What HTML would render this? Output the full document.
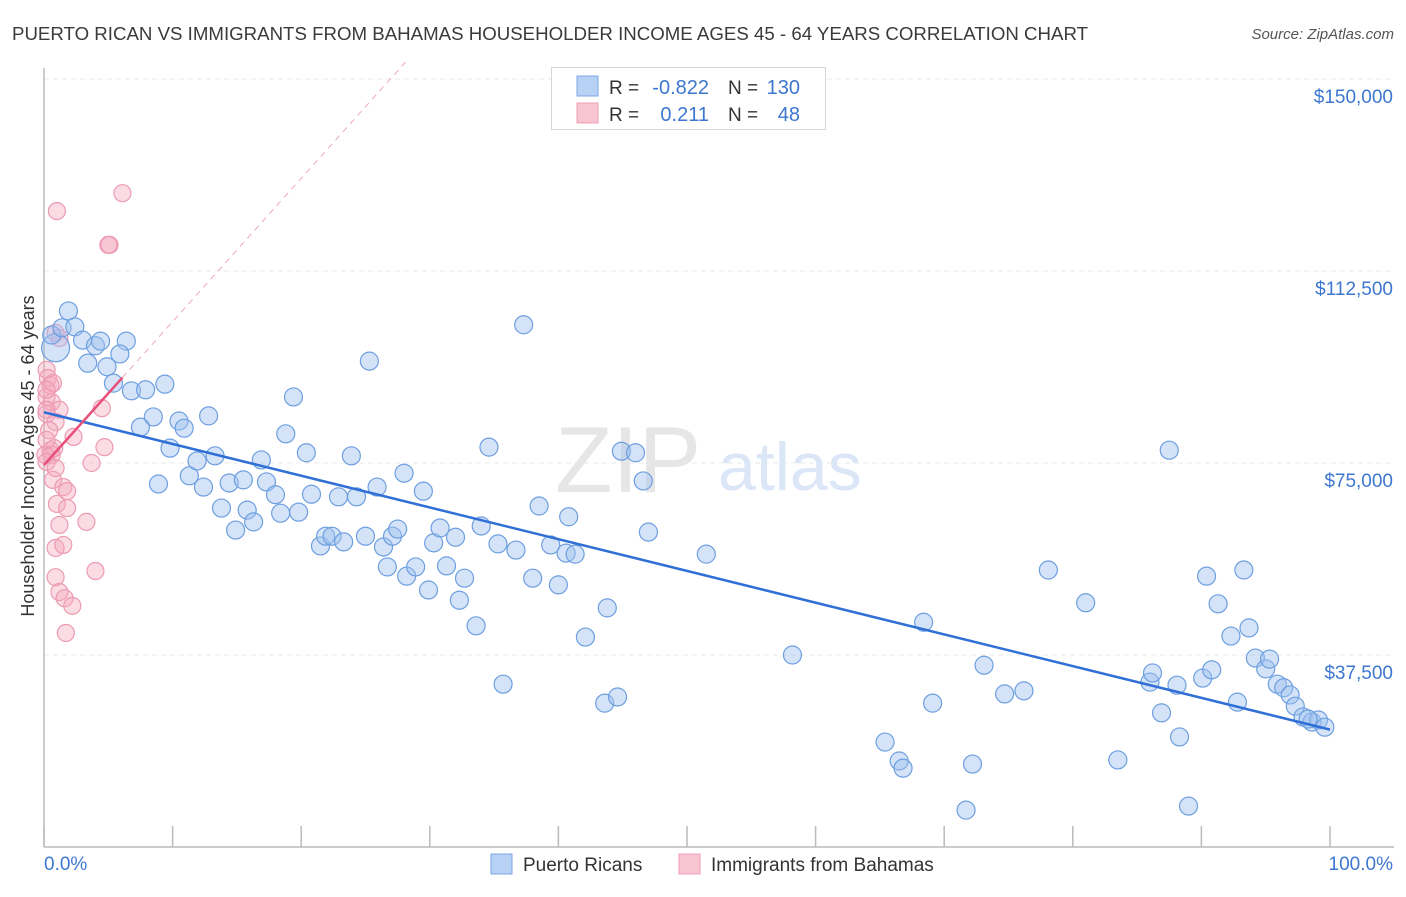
<!DOCTYPE html>
<html><head><meta charset="utf-8"><style>
body{margin:0;background:#fff;font-family:"Liberation Sans",sans-serif}
svg text{font-family:"Liberation Sans",sans-serif}
</style></head><body>
<svg id="c" width="1406" height="892"></svg>
<script>
const bluePct=[0.9,0.6,1.9,1.4,2.4,3.0,4.0,4.4,6.4,5.9,3.4,4.9,5.4,6.8,7.9,9.4,8.5,7.5,10.5,10.9,12.8,9.8,19.4,25.3,37.3,34.6,8.9,11.3,11.9,12.4,13.3,14.4,15.5,13.8,14.9,15.8,16.3,16.9,17.3,18.0,18.4,19.8,18.8,20.4,20.8,23.9,21.5,21.9,22.4,23.3,22.9,24.3,25.9,25.0,26.4,27.1,27.5,28.0,26.7,28.2,28.9,29.5,29.9,30.3,30.8,31.3,32.0,32.7,32.3,33.6,34.0,35.3,36.7,35.7,38.0,38.5,39.4,40.0,40.6,40.8,41.3,43.8,42.1,43.6,44.6,44.9,46.0,46.6,47.0,51.5,58.2,68.4,69.1,65.4,66.5,66.8,73.1,71.7,72.2,74.7,76.2,78.1,81.0,83.5,86.0,86.2,86.9,87.5,88.1,88.3,89.0,90.1,90.4,90.8,91.3,92.3,92.8,93.3,93.7,94.2,95.0,95.3,95.9,96.4,96.9,97.3,97.9,98.6,99.1,99.6,98.3];
const blueInc=[97.5,100.0,104.7,101.4,101.6,99.0,97.9,98.8,98.8,96.3,94.5,93.8,90.6,89.1,89.3,90.4,84.0,82.0,83.2,81.8,84.2,77.9,87.9,94.9,102.0,78.1,70.9,72.5,75.4,70.3,76.4,71.1,71.7,66.2,61.9,65.8,63.5,75.6,71.3,68.8,65.2,65.4,80.7,77.0,68.9,76.4,58.8,60.7,60.7,59.6,68.4,68.4,70.3,60.7,58.6,60.7,62.1,73.0,54.7,52.9,54.7,69.5,50.2,59.4,62.3,54.9,60.5,52.5,48.2,43.2,62.7,59.2,58.0,31.8,52.5,66.6,59.0,51.2,57.4,64.5,57.2,46.7,41.0,28.1,29.3,77.3,77.0,71.5,61.5,57.2,37.5,43.9,28.1,20.5,16.8,15.4,35.5,7.2,16.2,29.9,30.5,54.1,47.7,17.0,32.2,34.0,26.2,77.5,31.6,21.5,8.0,33.0,52.9,34.6,47.5,41.2,28.3,54.1,42.8,36.9,34.8,36.7,31.8,31.1,29.7,27.5,25.4,24.4,24.8,23.4,25.0];
const pinkPct=[1.0,6.1,5.1,5.0,0.9,1.2,0.2,0.3,0.5,0.2,0.6,1.2,0.2,0.9,4.5,2.3,4.7,0.5,0.8,0.6,3.7,0.7,1.5,1.8,1.0,1.8,1.2,3.3,0.9,1.5,4.0,0.9,1.2,1.6,2.2,1.7,0.2,0.4,0.1,0.2,0.9,0.2,0.7,0.2];
const pinkInc=[124.2,127.7,117.6,117.6,100.4,99.4,93.2,91.6,90.2,87.9,86.9,85.4,84.6,83.0,85.7,80.1,78.1,77.5,77.9,76.6,75.0,71.7,70.3,69.5,67.0,66.2,62.9,63.5,58.4,59.0,53.9,52.7,49.8,48.6,47.1,41.8,85.4,81.4,76.6,75.2,74.0,79.5,90.6,89.3];
const yTicks=[37500,75000,112500,150000];
const yLabels=["$37,500","$75,000","$112,500","$150,000"];

const NS="http://www.w3.org/2000/svg",svg=document.getElementById('c');
const X0=44,X1=1330,YB=847,PX=(X1-X0)/100,PY=192/37.5;
const xs=p=>X0+p*PX, ys=k=>YB-k*PY;
function el(t,a,p){const e=document.createElementNS(NS,t);for(const k in a)e.setAttribute(k,a[k]);(p||svg).appendChild(e);return e;}

let t=el('text',{x:12,y:40,'font-size':18,fill:'#3a3a3a',textLength:1076,lengthAdjust:'spacingAndGlyphs'});t.textContent="PUERTO RICAN VS IMMIGRANTS FROM BAHAMAS HOUSEHOLDER INCOME AGES 45 - 64 YEARS CORRELATION CHART";

t=el('text',{x:1394,y:39,'font-size':15,fill:'#555','text-anchor':'end','font-style':'italic'});t.textContent="Source: ZipAtlas.com";


yTicks.forEach((v,i)=>{
  const g=el('line',{x1:X0,x2:1394,y1:ys(v/1000),y2:ys(v/1000),stroke:'#e8e8e8','stroke-dasharray':'5,4'});
  
  const l=el('text',{x:1393,y:ys(v/1000)+24,'font-size':19,fill:'#3d77d0','text-anchor':'end'});l.textContent=yLabels[i];
  
});
let a=el('line',{x1:X0,x2:X0,y1:68,y2:YB,stroke:'#bbb','stroke-width':1.5});
a=el('line',{x1:X0,x2:1394,y1:YB,y2:YB,stroke:'#bbb','stroke-width':1.5});
for(let i=0;i<=10;i++){const k=el('line',{x1:xs(i*10),x2:xs(i*10),y1:826,y2:YB,stroke:'#bbb','stroke-width':1.5});}
t=el('text',{x:44,y:870,'font-size':19,fill:'#3d77d0'});t.textContent="0.0%";
t=el('text',{x:1393,y:870,'font-size':19,fill:'#3d77d0','text-anchor':'end'});t.textContent="100.0%";
t=el('text',{x:34,y:456,'font-size':18,fill:'#333','text-anchor':'middle',transform:'rotate(-90 34 456)'});t.textContent="Householder Income Ages 45 - 64 years";

t=el('text',{x:555,y:492,'font-size':94,fill:'#e6e6e6','font-family':'Liberation Serif'});t.textContent="ZIP";
t=el('text',{x:718,y:490,'font-size':68,fill:'#dbe6f6'});t.textContent="atlas";

function fit(X,Y){const n=X.length;let mx=0,my=0;for(let i=0;i<n;i++){mx+=X[i];my+=Y[i];}mx/=n;my/=n;let sxy=0,sxx=0;for(let i=0;i<n;i++){sxy+=(X[i]-mx)*(Y[i]-my);sxx+=(X[i]-mx)**2;}const b=sxy/sxx;return [my-b*mx,b];}

pinkPct.forEach((p,i)=>{const c=el('circle',{cx:xs(p),cy:ys(pinkInc[i]),r:8.5,fill:'rgba(244,168,190,0.4)',stroke:'#ec9ab2','stroke-width':1.2});
});
bluePct.forEach((p,i)=>{const c=el('circle',{cx:xs(p),cy:ys(blueInc[i]),r:i===0?14:9,fill:'rgba(160,194,240,0.45)',stroke:'#6d9fe0','stroke-width':1.2});
});

const [ba,bb]=fit(bluePct,blueInc);
let ln=el('line',{x1:xs(0),y1:ys(ba),x2:xs(100),y2:ys(ba+bb*100),stroke:'#2f6fd6','stroke-width':2.5});

const [pa,pb]=fit(pinkPct,pinkInc);
const pMax=Math.max(...pinkPct);
const xEnd=Math.min(100,(154-pa)/pb);
ln=el('line',{x1:xs(pMax),y1:ys(pa+pb*pMax),x2:xs(xEnd),y2:ys(pa+pb*xEnd),stroke:'#eeaabb','stroke-width':1,'stroke-dasharray':'6,5'});

ln=el('line',{x1:xs(0),y1:ys(pa),x2:xs(pMax),y2:ys(pa+pb*pMax),stroke:'#e8507a','stroke-width':2.5});


let lg=el('g',{});
el('rect',{x:551.5,y:67.5,width:274,height:62,fill:'#fff',stroke:'#d6d6d6'},lg);
el('rect',{x:577,y:76,width:21,height:20,fill:'#b8d2f5',stroke:'#7aa7e4'},lg);
el('rect',{x:577,y:103,width:21,height:20,fill:'#f8c4d2',stroke:'#eea0b6'},lg);
[[94,'R = ','-0.822','N = ','130'],[121,'R = ','0.211','N = ','48']].forEach(r=>{
 let q=el('text',{x:609,y:r[0],'font-size':19,fill:'#333'},lg);q.textContent=r[1];
 q=el('text',{x:709,y:r[0],'font-size':20,fill:'#3d77d0','text-anchor':'end'},lg);q.textContent=r[2];
 q=el('text',{x:728,y:r[0],'font-size':19,fill:'#333'},lg);q.textContent=r[3];
 q=el('text',{x:800,y:r[0],'font-size':20,fill:'#3d77d0','text-anchor':'end'},lg);q.textContent=r[4];
});
let bl=el('g',{});
el('rect',{x:491,y:854,width:21,height:20,fill:'#b8d2f5',stroke:'#7aa7e4'},bl);
t=el('text',{x:523,y:871,'font-size':19,fill:'#333'},bl);t.textContent="Puerto Ricans";

el('rect',{x:679,y:854,width:21,height:20,fill:'#f8c4d2',stroke:'#eea0b6'},bl);
t=el('text',{x:711,y:871,'font-size':19,fill:'#333'},bl);t.textContent="Immigrants from Bahamas";

</script>
</body></html>
